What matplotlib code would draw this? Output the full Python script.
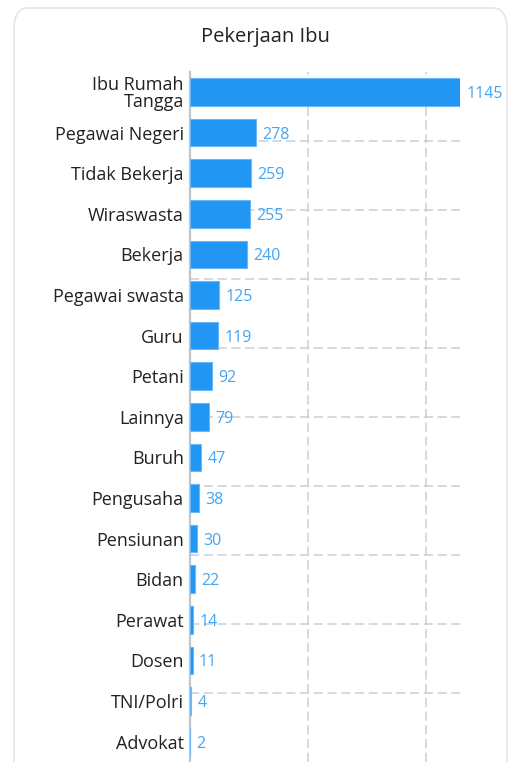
import matplotlib.pyplot as plt
from matplotlib.patches import FancyBboxPatch

# data
jobs = ["Ibu Rumah\nTangga", "Pegawai Negeri", "Tidak Bekerja", "Wiraswasta",
        "Bekerja", "Pegawai swasta", "Guru", "Petani", "Lainnya", "Buruh",
        "Pengusaha", "Pensiunan", "Bidan", "Perawat", "Dosen", "TNI/Polri",
        "Advokat"]
counts = [1145, 278, 259, 255, 240, 125, 119, 92, 79, 47, 38, 30, 22, 14, 11, 4, 2]
x_grid = [500, 1000]

plt.rcParams['font.family'] = ['Open Sans', 'DejaVu Sans']

fig = plt.figure(figsize=(5.08, 7.62), dpi=100)

# card background with rounded border
card = FancyBboxPatch((14 / 508, -0.05), 493 / 508, 1.05 - 8 / 762,
                      boxstyle="round,pad=0,rounding_size=0.028",
                      transform=fig.transFigure, facecolor="white",
                      edgecolor="#e4e4ea", linewidth=1.2, zorder=0)
fig.patches.append(card)

fig.text(265 / 508, 1 - 37 / 762, "Pekerjaan Ibu", ha="center", va="center",
         fontsize=14.5, color="#222222")

left, right = 190 / 508, 460 / 508
top = 1 - 71.7 / 762
ax = fig.add_axes([left, 0, right - left, top])
ax2 = ax.twinx()
ax.set_zorder(2)
ax2.set_zorder(1)
ax.patch.set_visible(False)

grid_col = "#c8cfd6"
dash = (0, (6, 3))

# horizontal dashed grid lines from a hidden linear axis (10 equal parts)
ax2.set_ylim(0, 10)
ax2.set_yticks(range(1, 10))
ax2.tick_params(right=False, labelright=False)
ax2.grid(True, axis="y", color=grid_col, linestyle=dash, linewidth=1.1)
for s in ax2.spines.values():
    s.set_visible(False)

ypos = list(range(len(jobs)))
ax.barh(ypos, counts, height=0.68, color="#2196F3", edgecolor="#6cb8f6",
        linewidth=0.8, zorder=3)
for y, v in zip(ypos, counts):
    ax.annotate(str(v), (v, y), xytext=(4.5, 0), textcoords="offset points",
                ha="left", va="center_baseline", fontsize=11.5, color="#42A5F5",
                zorder=4)

ax.set_xlim(0, max(counts))
ax.set_ylim(len(jobs) - 0.5, -0.5)
ax.set_yticks(ypos)
ax.set_yticklabels(jobs, fontsize=13, color="#222222", linespacing=0.95)
ax.set_xticks(x_grid)
ax.tick_params(axis="x", bottom=False, labelbottom=False)
ax.tick_params(axis="y", left=False, pad=1)
ax.grid(True, axis="x", color=grid_col, linestyle=dash, linewidth=1.1)
ax.set_axisbelow(True)

for name, s in ax.spines.items():
    s.set_visible(name == "left")
ax.spines["left"].set_color("#c4c4c4")
ax.spines["left"].set_linewidth(1.6)

fig.savefig("out.png", dpi=100)
